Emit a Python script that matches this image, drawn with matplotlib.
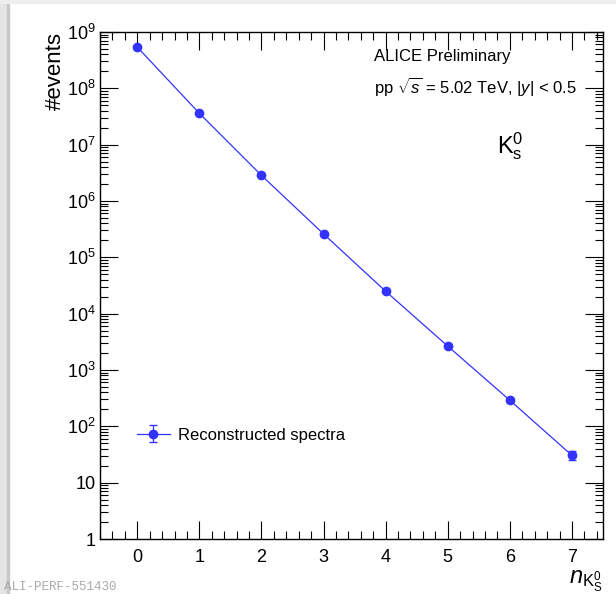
import matplotlib
matplotlib.use('agg')
import numpy as np
import matplotlib.pyplot as plt
from matplotlib.ticker import FixedLocator, MultipleLocator, FuncFormatter, LogLocator, NullFormatter
from matplotlib.patches import Rectangle

n_k0s = [0, 1, 2, 3, 4, 5, 6, 7]
events = [5.4e8, 3.6e7, 2.85e6, 2.6e5, 2.5e4, 2.65e3, 2.9e2, 30.5]
events_err = [2.3e4, 6.0e3, 1.7e3, 5.1e2, 1.6e2, 51, 17, 5.5]

plt.rcParams['font.family'] = ['Liberation Sans', 'DejaVu Sans']
plt.rcParams['mathtext.fontset'] = 'custom'
plt.rcParams['mathtext.rm'] = 'Liberation Sans'
plt.rcParams['mathtext.it'] = 'Liberation Sans:italic'
plt.rcParams['mathtext.bf'] = 'Liberation Sans:bold'

blue = '#3333ff'

fig = plt.figure(figsize=(6.16, 5.94), dpi=100)
W, H = 616, 594
ax = fig.add_axes([100/W, 1 - 539/H, 503/W, 507/H])

ax.errorbar(n_k0s, events, yerr=events_err, color=blue, marker='o',
            markersize=6, linewidth=0.9, elinewidth=0.9, capsize=3,
            label='Reconstructed spectra')

ax.set_yscale('log')
ax.set_xlim(-0.6, 7.5)
ax.set_ylim(1, 1e9)

ax.xaxis.set_major_locator(MultipleLocator(1))
ax.xaxis.set_minor_locator(MultipleLocator(0.2))
ax.yaxis.set_major_locator(FixedLocator([10.0**k for k in range(10)]))
ax.yaxis.set_minor_locator(LogLocator(base=10, subs=np.arange(2, 10), numticks=20))
ax.yaxis.set_minor_formatter(NullFormatter())

def yfmt(v, pos):
    k = int(round(np.log10(v)))
    if k == 0:
        return '1'
    if k == 1:
        return '10'
    return r'$10^{%d}$' % k
ax.yaxis.set_major_formatter(FuncFormatter(yfmt))

ax.tick_params(which='both', direction='in', top=True, right=True, width=0.8, labelsize=13)
ax.tick_params(which='major', length=13)
ax.tick_params(which='minor', length=6)
ax.tick_params(axis='x', which='major', pad=7)
ax.tick_params(axis='y', which='major', pad=3)
for s in ax.spines.values():
    s.set_linewidth(1.0)

ax.set_ylabel('#events', fontsize=16, loc='top', labelpad=1)
ax.set_xlabel(r'$n_{\mathrm{K}^{0}_{\mathrm{S}}}$', fontsize=17, loc='right', labelpad=2)

ax.text(0.545, 0.952, 'ALICE Preliminary', transform=ax.transAxes,
        fontsize=12, va='center', ha='left')
ax.text(0.545, 0.892, r'pp $\sqrt{s}$ = 5.02 TeV, |$y$| < 0.5', transform=ax.transAxes,
        fontsize=12, va='center', ha='left')
ax.text(0.79, 0.775, r'$\mathrm{K}^{0}_{\mathrm{s}}$', transform=ax.transAxes,
        fontsize=17, va='center', ha='left')

leg = ax.legend(loc='center left', bbox_to_anchor=(0.043, 0.205), frameon=False,
                fontsize=12, handlelength=2.0, handletextpad=0.5)

fig.text(4/W, 1/H, 'ALI-PERF-551430', fontsize=9, family='Liberation Mono',
         color='#aaaaaa', va='bottom', ha='left')

# screenshot frame shadow
fig.patches.append(Rectangle((0, 0), 7/W, 1, transform=fig.transFigure,
                             color='#e4e4e4', zorder=-1))
fig.patches.append(Rectangle((7/W, 0), 1.5/W, 1 - 4/H, transform=fig.transFigure,
                             color='#c8c8c8', zorder=-1))
fig.patches.append(Rectangle((0, 1 - 3/H), 1, 3/H, transform=fig.transFigure,
                             color='#eeeeee', zorder=-1))

fig.savefig('out.png', dpi=100)
